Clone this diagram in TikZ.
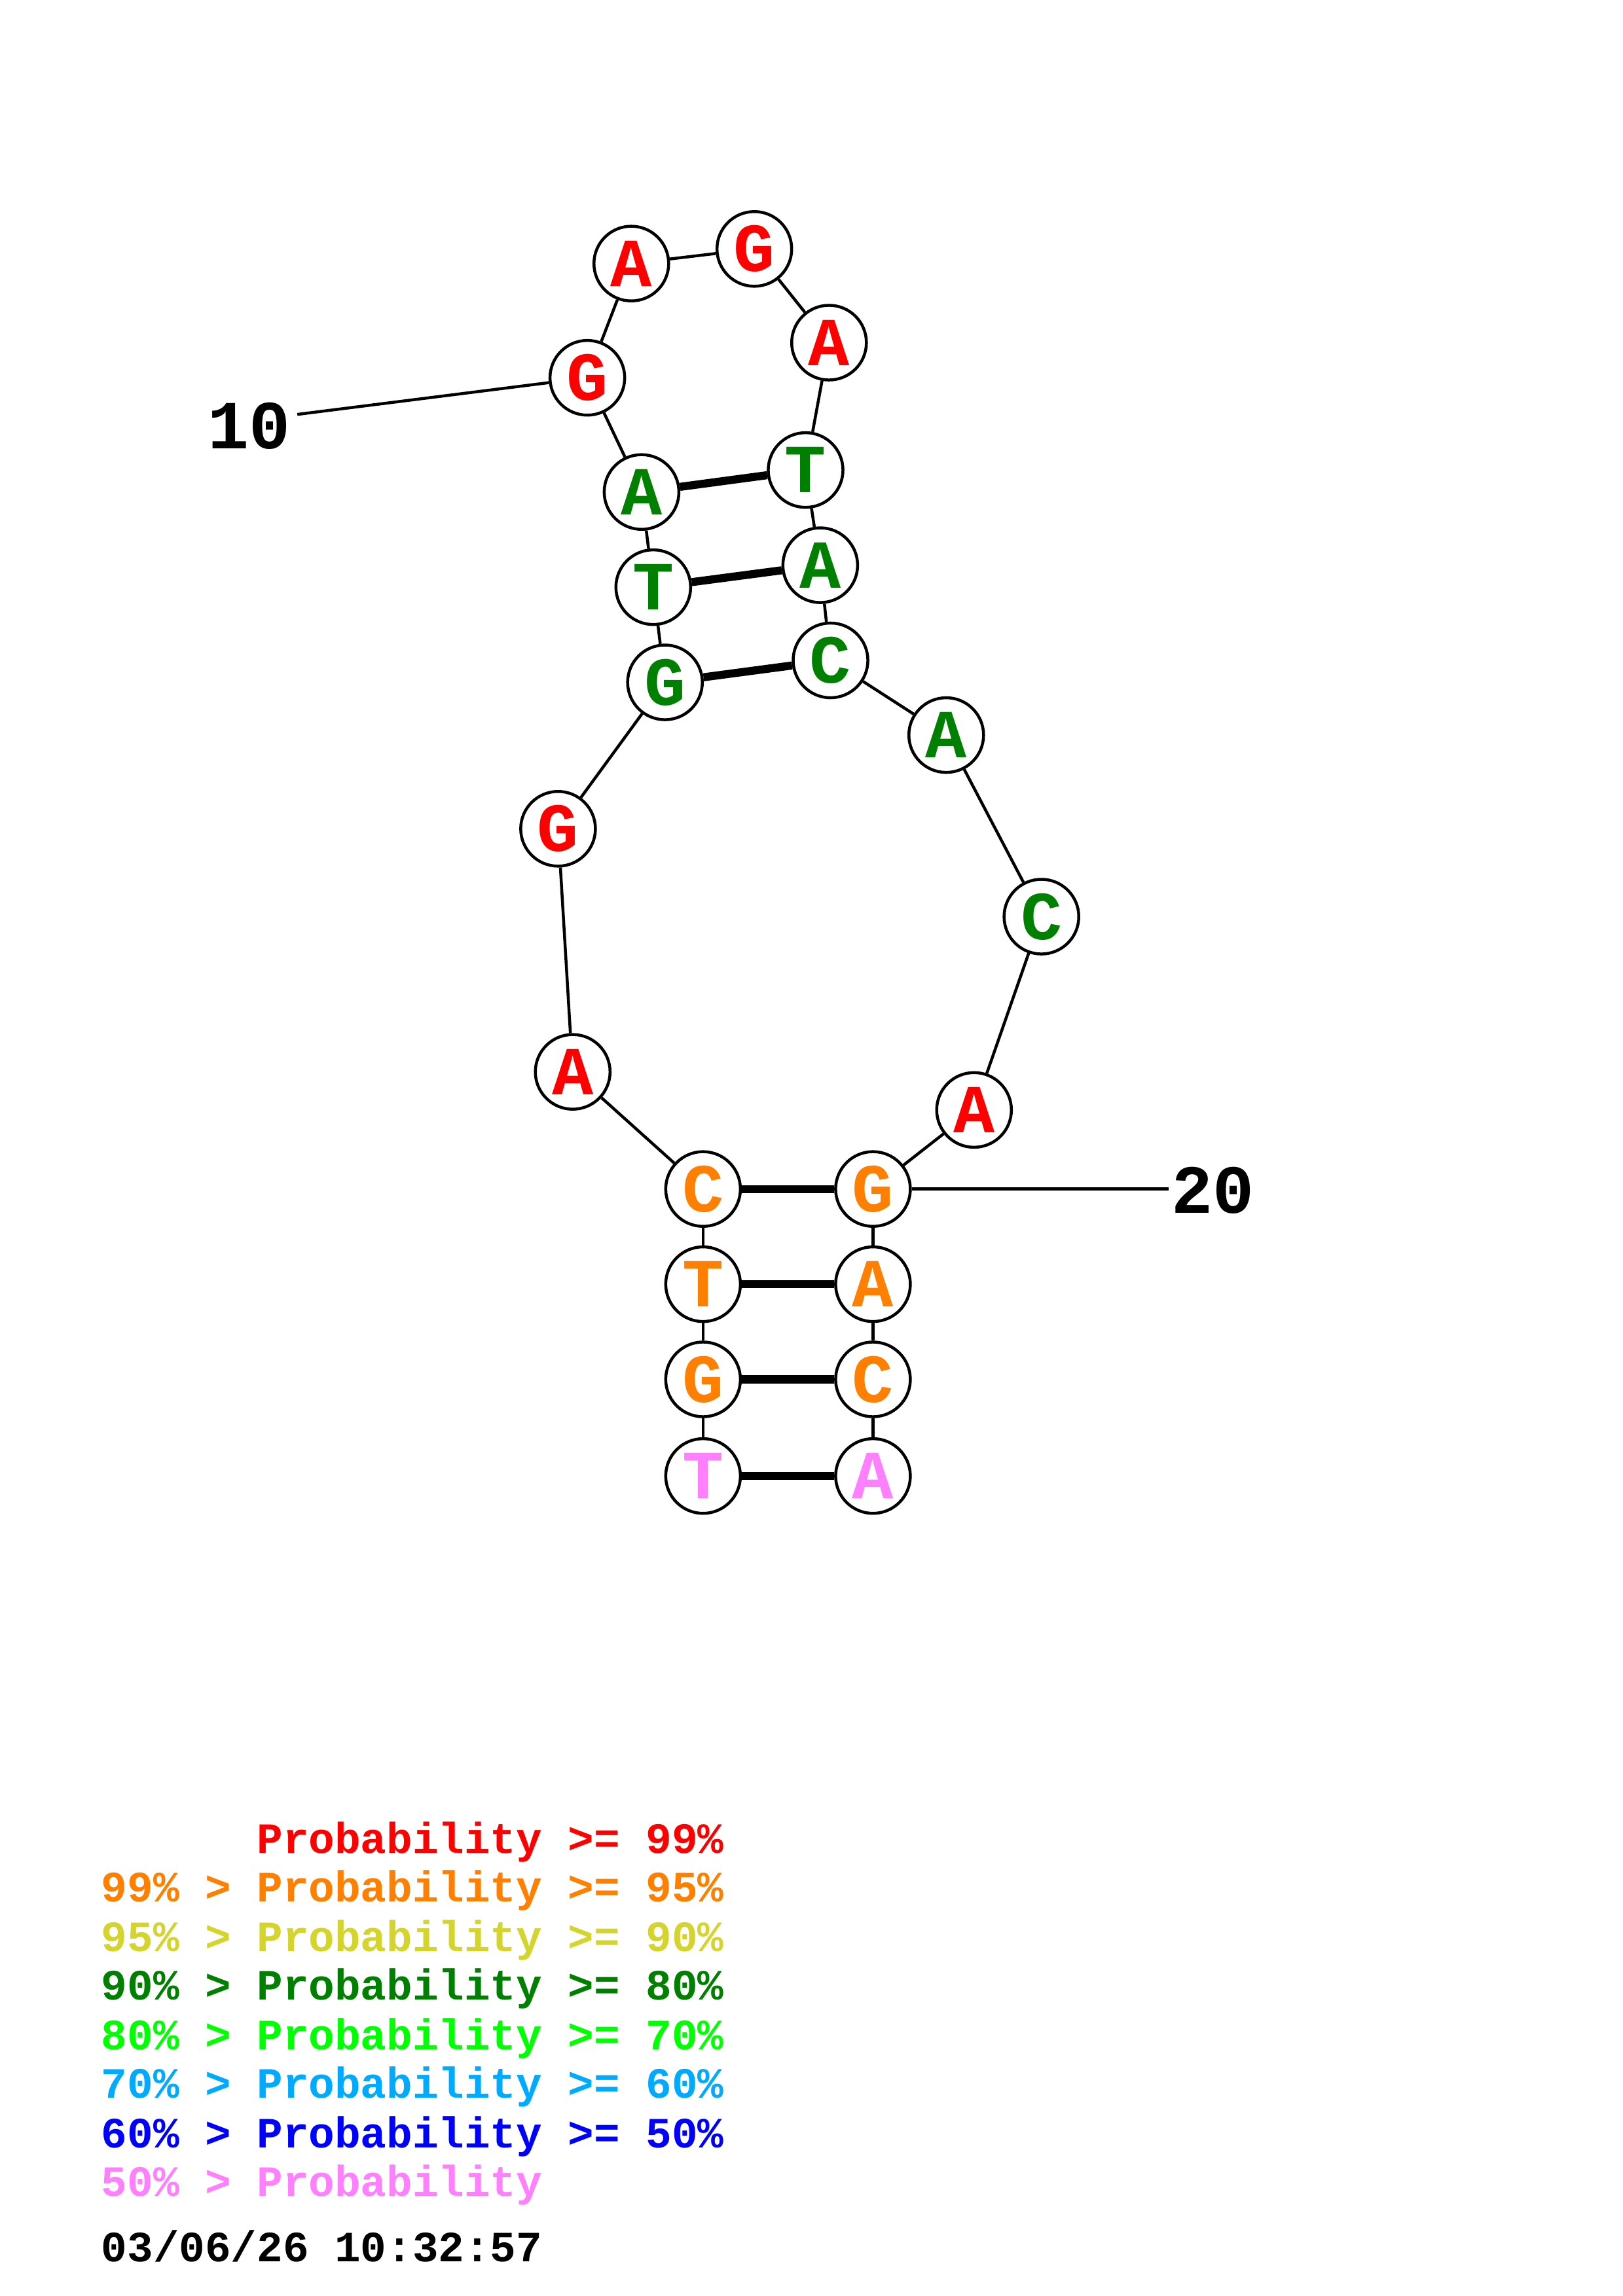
\documentclass[tikz,border=0pt]{standalone}
\usepackage{fontspec}
\setmonofont{Liberation Mono}
\usetikzlibrary{positioning}

\definecolor{pr99}{RGB}{255,0,0}
\definecolor{pr95}{RGB}{255,128,0}
\definecolor{pr90}{RGB}{212,212,44}
\definecolor{pr80}{RGB}{0,128,0}
\definecolor{pr70}{RGB}{0,255,0}
\definecolor{pr60}{RGB}{0,170,255}
\definecolor{pr50}{RGB}{0,0,255}
\definecolor{prlo}{RGB}{255,128,255}

\begin{document}
\begin{tikzpicture}[x=1pt, y=-1pt,
    nt/.style = {draw, circle, line width=2pt, fill=white, minimum size=51pt, inner sep=0pt,
      font=\ttfamily\bfseries\fontsize{47}{47}\selectfont},
    bb/.style = {line width=2pt},
    bp/.style = {line width=5.5pt},
    idx/.style = {inner sep=0pt, font=\ttfamily\bfseries\fontsize{47}{47}\selectfont},
    lg/.style = {anchor=west, inner sep=0pt, font=\ttfamily\bfseries\fontsize{29.5}{29.5}\selectfont}]
    \useasboundingbox (0,0) rectangle (1108,1568);
    % left strand of lower stem
    \node[nt, text=prlo] (n1) at (480,1008) {T};
    \node[nt, text=pr95] (n2) at (480,942) {G};
    \node[nt, text=pr95] (n3) at (480,877) {T};
    \node[nt, text=pr95] (n4) at (480,812) {C};
    % left side of big loop
    \node[nt, text=pr99] (n5) at (391,732) {A};
    \node[nt, text=pr99] (n6) at (381,566) {G};
    % upper stem, left
    \node[nt, text=pr80] (n7) at (454,466) {G};
    \node[nt, text=pr80] (n8) at (446,401) {T};
    \node[nt, text=pr80] (n9) at (438,336) {A};
    % hairpin
    \node[nt, text=pr99] (n10) at (401,258) {G};
    \node[nt, text=pr99] (n11) at (431,180) {A};
    \node[nt, text=pr99] (n12) at (515,170) {G};
    \node[nt, text=pr99] (n13) at (566,234) {A};
    % upper stem, right
    \node[nt, text=pr80] (n14) at (550,321) {T};
    \node[nt, text=pr80] (n15) at (560,386) {A};
    \node[nt, text=pr80] (n16) at (567,451) {C};
    % right side of big loop
    \node[nt, text=pr80] (n17) at (646,502) {A};
    \node[nt, text=pr80] (n18) at (711,626) {C};
    \node[nt, text=pr99] (n19) at (665,758) {A};
    % right strand of lower stem
    \node[nt, text=pr95] (n20) at (596,812) {G};
    \node[nt, text=pr95] (n21) at (596,877) {A};
    \node[nt, text=pr95] (n22) at (596,942) {C};
    \node[nt, text=prlo] (n23) at (596,1008) {A};

    % backbone
    \foreach \i [evaluate=\i as \j using int(\i+1)] in {1,...,22}
      \draw[bb] (n\i) -- (n\j);
    % pairs
    \foreach \a/\b in {1/23, 2/22, 3/21, 4/20, 7/16, 8/15, 9/14}
      \draw[bp] (n\a) -- (n\b);

    % numbering
    \node[idx] (l10) at (170,291) {10};
    \coordinate (t10) at (203,283);
    \draw[bb] (t10) -- (n10);
    \node[idx] (l20) at (828,813) {20};
    \coordinate (t20) at (798,812);
    \draw[bb] (n20) -- (t20);

    % legend
    \node[lg, text=pr99] (k1) at (69,1258) {\hphantom{99\% > }Probability >= 99\%};
    \node[lg, text=pr95] (k2) at (69,1291) {99\% > Probability >= 95\%};
    \node[lg, text=pr90] (k3) at (69,1325) {95\% > Probability >= 90\%};
    \node[lg, text=pr80] (k4) at (69,1358) {90\% > Probability >= 80\%};
    \node[lg, text=pr70] (k5) at (69,1392) {80\% > Probability >= 70\%};
    \node[lg, text=pr60] (k6) at (69,1425) {70\% > Probability >= 60\%};
    \node[lg, text=pr50] (k7) at (69,1459) {60\% > Probability >= 50\%};
    \node[lg, text=prlo] (k8) at (69,1492) {50\% > Probability};
    \node[lg] (stamp) at (69,1534) {03/06/26 10:32:57};
\end{tikzpicture}
\end{document}
